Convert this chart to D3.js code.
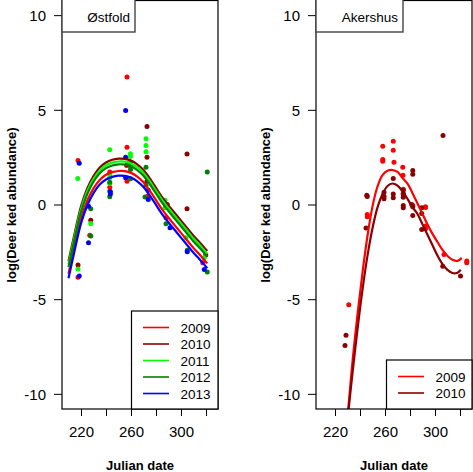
<!DOCTYPE html>
<html><head><meta charset="utf-8">
<script src="https://cdn.jsdelivr.net/npm/d3@7"></script>
<style>body{margin:0;background:#fff}svg{display:block}text{font-family:"Liberation Sans",Arial,Helvetica,sans-serif;fill:#000}</style>
</head><body><svg id="c" width="473" height="472"></svg>
<script>
// ---------- data ----------
const xTicks = [220, 240, 260, 280, 300, 320];
const xTickLabels = ["220", "", "260", "", "300", ""];
const yTicks = [10, 5, 0, -5, -10];
const yTickLabels = ["10", "5", "0", "-5", "-10"];

const ostYears = ["2009", "2010", "2011", "2012", "2013"];
const ostColors = ["#FF0000", "#8B0000", "#00FF00", "#008000", "#0000FF"];
const akYears = ["2009", "2010"];
const akColors = ["#FF0000", "#8B0000"];

// Østfold observations [julian date, log abundance]
const ost2009 = [[217.6,2.32],[217.6,-3.84],[227,-1.62],[243,1.71],[243,0.91],[256.8,6.74],[256.8,3.02],[256.5,2.06],[256.8,1.23],[273.5,0.45],[288,-0.7],[317.4,-3.08]];
const ost2010 = [[217.6,-3.2],[227.8,-0.83],[256.8,2.11],[272.8,4.12],[272.8,2.5],[272.8,1.23],[289,0],[304.8,2.67],[304.8,-0.23],[319.8,-2.67]];
const ost2011 = [[217.4,1.37],[217.6,-3.4],[227.8,-1.0],[243,2.89],[243,1.58],[243,1.41],[243,1.11],[259.5,2.68],[259.5,2.53],[272,3.47],[272,3.11],[272,2.78],[272,1.46],[287.2,0.23],[287.2,-0.17],[304,-1.76],[318.6,-2.81]];
const ost2012 = [[227.8,-0.23],[227.8,-1.67],[243,1.18],[243,0.7],[243,0.41],[259.6,2.23],[259.6,2.02],[259.6,1.85],[259.6,1.36],[272,1.97],[272,1.02],[271.2,0.39],[288,-1.02],[305,-2.41],[321,1.71],[321,-3.57]];
const ost2013 = [[218.6,2.18],[218.6,-3.78],[226,-0.09],[226,-2.02],[243.5,0.67],[243.5,0.56],[255.7,4.96],[255.7,2.5],[255.7,1.41],[273.8,0.75],[273.8,0.26],[291.2,-1.23],[305,-2.5],[318.6,-3.43]];

// Østfold fitted curves
const ostCurveDays = [210,215,220,225,230,235,240,245,250,255,260,265,270,275,280,285,290,295,300,305,310,315,321];
const ostFit2009 = [-3.65,-2.15,-0.75,0.2,0.85,1.3,1.57,1.71,1.77,1.76,1.67,1.47,1.17,0.73,0.23,-0.27,-0.7,-1.1,-1.5,-1.9,-2.3,-2.65,-3.11];
const ostFit2010 = [-3.0,-1.5,-0.1,0.85,1.5,1.95,2.22,2.36,2.42,2.41,2.32,2.12,1.82,1.38,0.88,0.38,-0.05,-0.45,-0.85,-1.25,-1.65,-2.0,-2.46];
const ostFit2011 = [-3.15,-1.65,-0.25,0.7,1.35,1.8,2.07,2.21,2.27,2.26,2.17,1.97,1.67,1.23,0.73,0.23,-0.2,-0.6,-1.0,-1.4,-1.8,-2.15,-2.61];
const ostFit2012 = [-3.3,-1.8,-0.4,0.55,1.2,1.65,1.92,2.06,2.12,2.11,2.02,1.82,1.52,1.08,0.58,0.08,-0.35,-0.75,-1.15,-1.55,-1.95,-2.3,-2.76];
const ostFit2013 = [-3.9,-2.4,-1.0,-0.05,0.6,1.05,1.32,1.46,1.52,1.51,1.42,1.22,0.92,0.48,-0.02,-0.52,-0.95,-1.35,-1.75,-2.15,-2.55,-2.9,-3.36];

// Akershus observations
const ak2009 = [[231,-5.3],[245.8,-0.53],[245.8,-0.65],[258.2,3.08],[258.2,2.37],[258.2,2.29],[266.6,3.34],[266.6,2.87],[267.2,2.23],[274.2,1.97],[274.4,1.55],[274.6,0.8],[274.6,0.58],[282.2,-0.05],[292.4,-0.12],[292.4,-0.16],[292.4,-1.14],[292.4,-1.28],[307.2,-2.64],[325.4,-2.99],[325.4,-3.08]];
const ak2010 = [[228,-7.44],[228.8,-6.91],[244.8,-1.24],[245.4,0.49],[245.8,0.42],[259.2,0.65],[259.2,0.44],[259.2,0.3],[266.6,1.37],[266.6,0.56],[266.6,0.35],[274.6,0.75],[274.6,0.56],[274.6,0.38],[274.6,-0.05],[274.6,-0.17],[282.2,1.79],[282.2,1.6],[281.4,0],[282.2,-0.12],[282.2,-0.58],[289.4,-0.17],[289.4,-0.47],[289.4,-1.32],[306.2,-3.26],[306.4,3.64],[320.4,-3.78]];

// Akershus fitted curves
const akCurveDays2009 = [229,230.6,234,238,242,246,250,254,258,262,266,270,274,278,282,286,290,294,298,302,306,310,314,318,321.4];
const akFit2009 = [-12,-10.8,-8.3,-5.8,-3.6,-1.65,-0.1,0.95,1.55,1.78,1.82,1.72,1.4,1.1,0.6,0.05,-0.5,-1.05,-1.55,-1.98,-2.4,-2.72,-2.92,-2.98,-2.82];
const akCurveDays2010 = [229,230.6,234,238,242,246,250,254,258,262,266,270,274,278,282,286,290,294,298,302,306,310,314,318,320.6];
const akFit2010 = [-12.2,-11.0,-8.9,-6.6,-4.5,-2.7,-1.25,-0.15,0.55,0.98,1.11,1.0,0.7,0.3,-0.15,-0.5,-1.05,-1.6,-2.15,-2.7,-3.15,-3.45,-3.62,-3.6,-3.45];

// ---------- drawing ----------
const svg = d3.select("#c");
const H0 = 0, H1 = 409;

function panel(cfg) {
  const x = d3.scaleLinear().domain([204.8, 329.6]).range([cfg.left, cfg.left + 156]);
  const y = d3.scaleLinear().domain([-10.8, 10.8]).range([H1, H0]);
  const g = svg.append("g");
  const clipId = "clip" + cfg.id;
  svg.append("clipPath").attr("id", clipId).append("rect")
    .attr("x", cfg.left).attr("y", H0).attr("width", 156).attr("height", H1 - H0);

  // points
  const pg = g.append("g").attr("clip-path", `url(#${clipId})`);
  cfg.points.forEach((pts, i) => {
    pg.selectAll(null).data(pts).enter().append("circle")
      .attr("cx", d => x(d[0])).attr("cy", d => y(d[1])).attr("r", 2.5)
      .attr("fill", cfg.colors[i]);
  });
  // curves
  const line = d3.line().x(d => x(d[0])).y(d => y(d[1])).curve(d3.curveCatmullRom.alpha(0.5));
  cfg.fits.forEach((f, i) => {
    const pts = f.days.map((d, k) => [d, f.vals[k]]);
    pg.append("path").attr("d", line(pts)).attr("fill", "none")
      .attr("stroke", cfg.colors[i]).attr("stroke-width", 2.2);
  });

  // axes
  const xa = g.append("g").attr("transform", `translate(0,${H1})`)
    .call(d3.axisBottom(x).tickValues(xTicks).tickSize(7).tickPadding(10)
      .tickFormat((d, i) => xTickLabels[i]));
  const ya = g.append("g").attr("transform", `translate(${cfg.left},0)`)
    .call(d3.axisLeft(y).tickValues(yTicks).tickSize(8).tickPadding(8)
      .tickFormat((d, i) => yTickLabels[i]));
  [xa, ya].forEach(a => {
    a.select(".domain").remove();
    a.selectAll("line").attr("stroke", "#000");
    a.selectAll("text").attr("font-size", 15).attr("font-family", "Liberation Sans, Arial, sans-serif");
  });
  ya.selectAll("text").attr("dy", "0.36em");

  // box
  g.append("rect").attr("x", cfg.left).attr("y", H0 + 0.5).attr("width", 156).attr("height", H1 - H0 - 0.5)
    .attr("fill", "none").attr("stroke", "#000").attr("stroke-width", 1.2);

  // title box
  g.append("rect").attr("x", cfg.left).attr("y", -1).attr("width", cfg.titleW).attr("height", 33)
    .attr("fill", "#fff").attr("stroke", "#444").attr("stroke-width", 1.4);
  g.append("text").attr("x", cfg.left + cfg.titleW - 5).attr("y", 22).attr("text-anchor", "end")
    .attr("font-size", 13.5).text(cfg.title);

  // legend
  const lg = g.append("g");
  const lw = cfg.left + 156 - cfg.legX;
  lg.append("rect").attr("x", cfg.legX).attr("y", cfg.legY).attr("width", lw).attr("height", H1 - cfg.legY)
    .attr("fill", "#fff").attr("stroke", "#000").attr("stroke-width", 1.2);
  cfg.years.forEach((yr, i) => {
    const yy = cfg.legY + 16.5 + i * 16.5;
    lg.append("line").attr("x1", cfg.legX + 11.5).attr("x2", cfg.legX + 37.5).attr("y1", yy).attr("y2", yy)
      .attr("stroke", cfg.colors[i]).attr("stroke-width", 1.6);
    lg.append("text").attr("x", cfg.legX + 49).attr("y", yy + 5).attr("font-size", 13.5).text(yr);
  });

  // axis titles
  g.append("text").attr("x", cfg.left + 78).attr("y", 470).attr("text-anchor", "middle")
    .attr("font-size", 13).attr("font-weight", "bold").text("Julian date");
  g.append("text").attr("transform", `translate(${cfg.left - 46},205) rotate(-90)`)
    .attr("text-anchor", "middle").attr("font-size", 13).attr("font-weight", "bold")
    .text("log(Deer ked abundance)");
}

panel({
  id: "a", left: 62, title: "Østfold", titleW: 73,
  years: ostYears, colors: ostColors,
  points: [ost2009, ost2010, ost2011, ost2012, ost2013],
  fits: [
    {days: ostCurveDays, vals: ostFit2009},
    {days: ostCurveDays, vals: ostFit2010},
    {days: ostCurveDays, vals: ostFit2011},
    {days: ostCurveDays, vals: ostFit2012},
    {days: ostCurveDays, vals: ostFit2013}
  ],
  legX: 131.5, legY: 311
});
panel({
  id: "b", left: 316, title: "Akershus", titleW: 87,
  years: akYears, colors: akColors,
  points: [ak2009, ak2010],
  fits: [
    {days: akCurveDays2009, vals: akFit2009},
    {days: akCurveDays2010, vals: akFit2010}
  ],
  legX: 386.5, legY: 360
});
</script>
</body></html>
